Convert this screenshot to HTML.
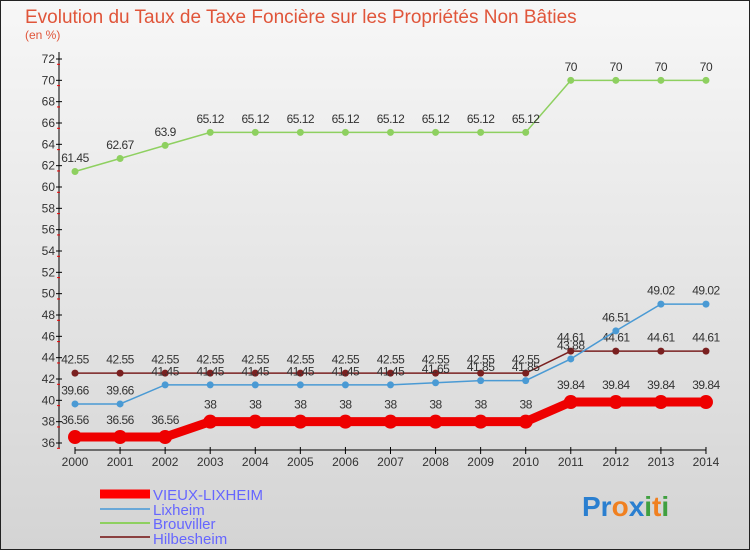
<!DOCTYPE html>
<html><head><meta charset="utf-8"><style>
body{margin:0}
#c{width:750px;height:550px;position:relative;overflow:hidden;font-family:"Liberation Sans",sans-serif}
</style></head><body>
<div id="c">
<svg id="s" width="750" height="550" xmlns="http://www.w3.org/2000/svg">
<defs><linearGradient id="bg" x1="0" y1="0" x2="0" y2="1"><stop offset="0" stop-color="#f7f7f7"/><stop offset="1" stop-color="#d4d4d4"/></linearGradient></defs>
<rect x="0.5" y="0.5" width="749" height="549" fill="url(#bg)" stroke="#222"/>
<text x="25" y="23" font-size="19" fill="#e0553a">Evolution du Taux de Taxe Foncière sur les Propriétés Non Bâties</text>
<text x="25" y="39" font-size="12" fill="#e0553a">(en %)</text>
<g id="axes"></g><g id="series"></g>
<g>
<line x1="100" y1="494" x2="150" y2="494" stroke="#f00" stroke-width="9"/>
<text x="153" y="500" font-size="15" fill="#6666ff">VIEUX-LIXHEIM</text>
<line x1="100" y1="509" x2="150" y2="509" stroke="#6aa8d8" stroke-width="2"/>
<text x="153" y="515" font-size="15" fill="#6666ff">Lixheim</text>
<line x1="100" y1="523" x2="150" y2="523" stroke="#8ed060" stroke-width="2"/>
<text x="153" y="529" font-size="15" fill="#6666ff">Brouviller</text>
<line x1="100" y1="537" x2="150" y2="537" stroke="#8a4040" stroke-width="2"/>
<text x="153" y="544" font-size="15" fill="#6666ff">Hilbesheim</text>
</g>
<text x="582" y="516" font-size="28" font-weight="bold"><tspan fill="#2a7fd0">Pr</tspan><tspan fill="#f08020">o</tspan><tspan fill="#2a7fd0">x</tspan><tspan fill="#40a040">i</tspan><tspan fill="#f08020">t</tspan><tspan fill="#40a040">i</tspan></text>
</svg></div>
<script>
const years=[2000,2001,2002,2003,2004,2005,2006,2007,2008,2009,2010,2011,2012,2013,2014];
const vieux=[36.56,36.56,36.56,38,38,38,38,38,38,38,38,39.84,39.84,39.84,39.84];
const lixheim=[39.66,39.66,41.45,41.45,41.45,41.45,41.45,41.45,41.65,41.85,41.85,43.88,46.51,49.02,49.02];
const brouviller=[61.45,62.67,63.9,65.12,65.12,65.12,65.12,65.12,65.12,65.12,65.12,70,70,70,70];
const hilbesheim=[42.55,42.55,42.55,42.55,42.55,42.55,42.55,42.55,42.55,42.55,42.55,44.61,44.61,44.61,44.61];
const yTicks=[36,38,40,42,44,46,48,50,52,54,56,58,60,62,64,66,68,70,72];
const NS="http://www.w3.org/2000/svg";
const X=i=>75+i*45.07, Y=v=>443-(v-36)*10.667;
function mk(t,a,p){const e=document.createElementNS(NS,t);for(const k in a)e.setAttribute(k,a[k]);p.appendChild(e);return e;}
const ax=document.getElementById('axes'), sg=document.getElementById('series');
let l=mk('line',{x1:59,y1:52,x2:59,y2:448,stroke:'#000'},ax);


l=mk('line',{x1:75,y1:450,x2:706,y2:450,stroke:'#000'},ax);


yTicks.forEach(v=>{const y=Y(v);mk('line',{x1:56,y1:y,x2:62,y2:y,stroke:'#000'},ax);
 mk('line',{x1:57,y1:y+5.3,x2:60,y2:y+5.3,stroke:'#e00'},ax);
 const t=mk('text',{x:55,y:y+4,'font-size':12,'text-anchor':'end',fill:'#333'},ax);t.textContent=v;
 
 });
years.forEach((yr,i)=>{mk('line',{x1:X(i),y1:447,x2:X(i),y2:454,stroke:'#000'},ax);
 const t=mk('text',{x:X(i),y:466,'font-size':12,'text-anchor':'middle',fill:'#333'},ax);t.textContent=yr;
 
 });
function series(d,col,w,r,name){const g=mk('g',{},sg);
 
 
 mk('polyline',{points:d.map((v,i)=>X(i)+','+Y(v)).join(' '),fill:'none',stroke:col,'stroke-width':w},g);
 d.forEach((v,i)=>{const c=mk('circle',{cx:X(i),cy:Y(v),r:r,fill:col},g);
 
 
 const t=mk('text',{x:X(i),y:Y(v)-(r+6),'font-size':12,'text-anchor':'middle',fill:'#333','letter-spacing':'-0.5'},g);t.textContent=v;
 
 });}
series(brouviller,'#8ed060',1.5,3.5,'brouviller');
series(hilbesheim,'#7a2020',1.5,3.5,'hilbesheim');
series(lixheim,'#4a9ad4',1.5,3.5,'lixheim');
series(vieux,'#ee0000',9,7,'vieux-lixheim');
</script>
</body></html>
